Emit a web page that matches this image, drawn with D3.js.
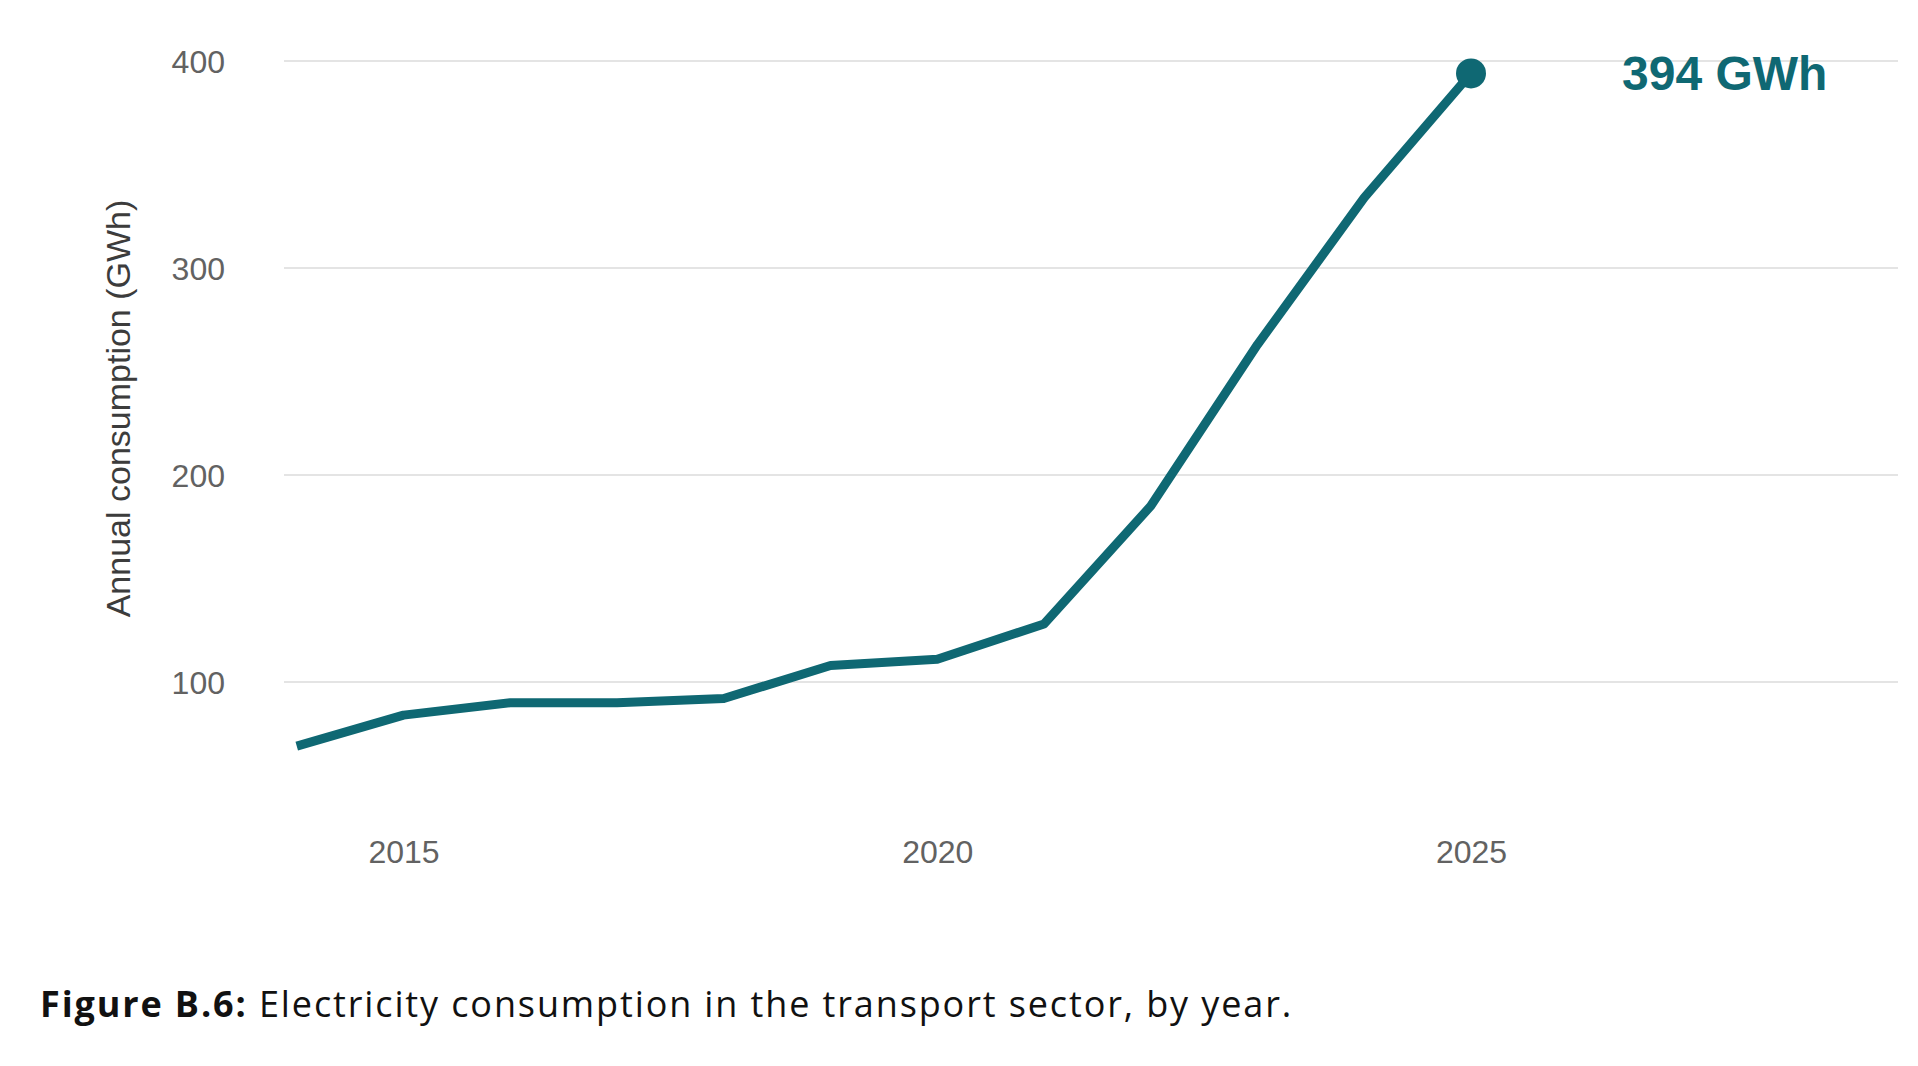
<!DOCTYPE html>
<html>
<head>
<meta charset="utf-8">
<script src="https://cdn.jsdelivr.net/npm/d3@7"></script>
<style>
  html, body { margin: 0; padding: 0; background: #ffffff; }
  svg { display: block; }
</style>
</head>
<body>
<svg id="chart" width="1918" height="1066"></svg>
<script>
const years = [2014, 2015, 2016, 2017, 2018, 2019, 2020, 2021, 2022, 2023, 2024, 2025];
const consumption = [69, 84, 90, 90, 92, 108, 111, 128, 185, 263, 334, 394];
const yTicks = [100, 200, 300, 400];
const xTicks = [2015, 2020, 2025];
const yTitle = "Annual consumption (GWh)";
const endLabel = "394 GWh";
const captionBold = "Figure B.6:";
const captionText = " Electricity consumption in the transport sector, by year.";

const teal = "#0f6873";
const svg = d3.select("#chart");

const x = d3.scaleLinear().domain([2015, 2025]).range([403.5, 1471]);
const y = d3.scaleLinear().domain([100, 400]).range([682, 61]);
const gridLeft = 284, gridRight = 1898;

// gridlines
svg.append("g").selectAll("line").data(yTicks).join("line")
  .attr("x1", gridLeft).attr("x2", gridRight)
  .attr("y1", d => y(d)).attr("y2", d => y(d))
  .attr("stroke", "#e4e4e4").attr("stroke-width", 2);

// y axis labels
const yAxis = d3.axisLeft(y).tickValues(yTicks).tickSize(0).tickPadding(0);
const gy = svg.append("g").attr("transform", "translate(225,0)").call(yAxis);
gy.select(".domain").remove();
gy.selectAll("text")
  .attr("font-family", "'Liberation Sans', Arial, sans-serif")
  .attr("font-size", 32).attr("fill", "#626262").attr("dy", "0.36em");

// x axis labels
const xAxis = d3.axisBottom(x).tickValues(xTicks).tickFormat(d3.format("d")).tickSize(0).tickPadding(0);
const gx = svg.append("g").attr("transform", "translate(0,840)").call(xAxis);
gx.select(".domain").remove();
gx.selectAll("text")
  .attr("font-family", "'Liberation Sans', Arial, sans-serif")
  .attr("font-size", 32).attr("fill", "#626262").attr("dy", "0.73em");

// y title
svg.append("text")
  .attr("transform", `translate(130,${(200 + 617) / 2}) rotate(-90)`)
  .attr("text-anchor", "middle")
  .attr("font-family", "'Liberation Sans', Arial, sans-serif")
  .attr("font-size", 34).attr("fill", "#3c3c3c")
  .text(yTitle);

// line
const data = years.map((yr, i) => ({ yr, v: consumption[i] }));
svg.append("path").datum(data)
  .attr("fill", "none").attr("stroke", teal).attr("stroke-width", 9)
  .attr("stroke-linejoin", "round")
  .attr("d", d3.line().x(d => x(d.yr)).y(d => y(d.v)));

// end dot
const last = data[data.length - 1];
svg.append("circle")
  .attr("cx", x(last.yr)).attr("cy", y(last.v)).attr("r", 15)
  .attr("fill", teal);

// end label
svg.append("text")
  .attr("x", 1622).attr("y", 90)
  .attr("font-family", "'Liberation Sans', Arial, sans-serif")
  .attr("font-weight", "bold").attr("font-size", 48).attr("fill", teal)
  .text(endLabel);

// caption
const cap = svg.append("text")
  .attr("x", 40).attr("y", 1017)
  .attr("font-family", "'Open Sans', 'Noto Sans', sans-serif")
  .attr("font-size", 36).attr("fill", "#111");
cap.append("tspan").attr("font-weight", "bold").text(captionBold);
cap.append("tspan").text(captionText);
// adjust spacing so the caption spans the same width as the reference
const targetW = 1253;
const w = cap.node().getComputedTextLength();
const n = (captionBold + captionText).length;
cap.attr("letter-spacing", ((targetW - w) / n).toFixed(2) + "px");
</script>
</body>
</html>
